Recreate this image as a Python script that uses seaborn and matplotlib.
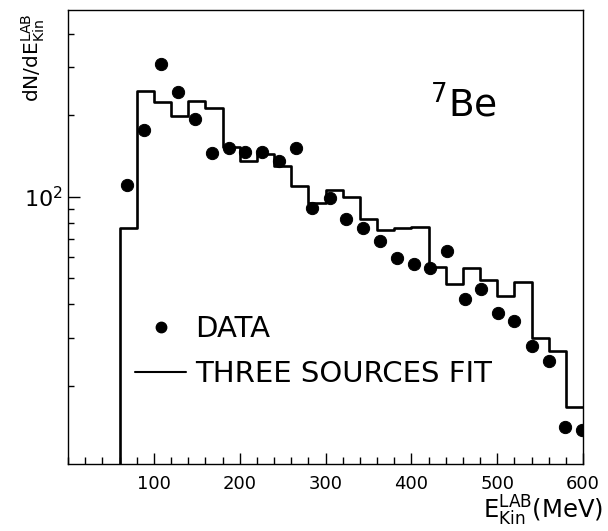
import matplotlib
matplotlib.use('Agg')
import matplotlib.pyplot as plt
from matplotlib.ticker import MultipleLocator, LogLocator, NullFormatter
from matplotlib.lines import Line2D
import seaborn as sns

# three sources fit, 20 MeV bins from 60 to 600 MeV
bin_edges = list(range(60, 601, 20))
fit_values = [76.4, 246, 224, 199, 225, 212, 152, 135, 144, 130, 109.5, 94.5, 106, 100,
              83, 75.5, 76.5, 77.5, 55, 47.5, 54.7, 49.3, 42.8, 48.3, 30, 27, 16.7]

# measured data points
data_x = [69, 89, 108, 128, 148, 168, 187, 206, 226, 246, 266, 284, 305, 324,
          344, 363, 383, 403, 422, 442, 462, 481, 501, 520, 540, 560, 579, 599]
data_y = [110, 177, 310, 243, 194, 144.5, 151, 146, 146, 136, 151, 90.6, 98.6, 82.5,
          76.8, 68.6, 59.3, 56.5, 54.7, 63, 41.9, 45.6, 37.1, 34.6, 28.2, 24.8, 14.05, 13.8]

sns.set_style('white')
plt.rcParams['font.family'] = ['DejaVu Sans']
plt.rcParams['mathtext.fontset'] = 'dejavusans'
plt.rcParams['text.color'] = 'black'
plt.rcParams['xtick.color'] = 'black'
plt.rcParams['ytick.color'] = 'black'

fig = plt.figure(figsize=(6.08, 5.31), dpi=100)
ax = fig.add_axes([68/608, 1-464/531, (583-68)/608, (464-10)/531])

ymin, ymax = 10.3, 489

# step outline, starting from below the axis
step_x = [bin_edges[0]] + bin_edges
step_y = [1.0] + fit_values + [fit_values[-1]]
sns.lineplot(x=step_x, y=step_y, estimator=None, sort=False, drawstyle='steps-post',
             color='black', linewidth=1.9, ax=ax)
sns.scatterplot(x=data_x, y=data_y, s=78, color='black', edgecolor='black', ax=ax)

ax.set_yscale('log')
ax.set_xlim(0, 600)
ax.set_ylim(ymin, ymax)

for s in ax.spines.values():
    s.set_linewidth(1.0)
    s.set_color('black')

ax.xaxis.set_major_locator(MultipleLocator(100))
ax.xaxis.set_minor_locator(MultipleLocator(20))
ax.set_xticks([100, 200, 300, 400, 500, 600])
ax.yaxis.set_major_locator(LogLocator(base=10))
ax.yaxis.set_minor_locator(LogLocator(base=10, subs=range(2, 10)))
ax.yaxis.set_minor_formatter(NullFormatter())

ax.tick_params(axis='x', which='major', direction='in', length=8, width=1, labelsize=13, pad=8)
ax.tick_params(axis='x', which='minor', direction='in', length=5, width=1)
ax.tick_params(axis='y', which='major', direction='in', length=8.6, width=1, labelsize=16, pad=4)
ax.tick_params(axis='y', which='minor', direction='in', length=4.3, width=1)
ax.tick_params(top=False, right=False, which='both', bottom=True, left=True)

ax.set_xlabel('')
ax.set_ylabel('')
fig.text(33/608, 1-13/531, r'dN/dE$^{\mathrm{LAB}}_{\mathrm{Kin}}$', rotation=90,
         ha='center', va='top', fontsize=14.5)
fig.text(603/608, 1-519/531, r'E$^{\mathrm{LAB}}_{\mathrm{Kin}}$(MeV)', ha='right',
         va='baseline', fontsize=17.5)

ax.text(0.703, 0.7665, r'$^{\mathrm{7}}$Be', transform=ax.transAxes, ha='left',
        va='baseline', fontsize=27)

handles = [Line2D([], [], marker='o', linestyle='none', color='black', markersize=7.5),
           Line2D([], [], color='black', linewidth=1.5)]
ax.legend(handles, ['DATA', 'THREE SOURCES FIT'], loc='upper left',
          bbox_to_anchor=(135/608, 1-315/531), bbox_transform=fig.transFigure,
          frameon=False, fontsize=21, borderpad=0, borderaxespad=0,
          handlelength=1.75, handletextpad=0.3, labelspacing=0.6)

plt.savefig('out.png', dpi=100)
plt.close()
